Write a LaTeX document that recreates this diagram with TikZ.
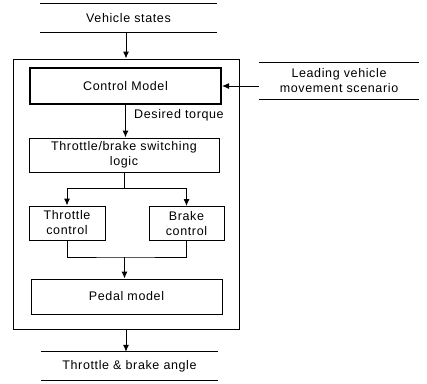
\documentclass[tikz,border=0pt]{standalone}
\usepackage{fontspec}
\setmainfont[LetterSpace=5]{Liberation Sans}
\usetikzlibrary{arrows.meta,calc}
\begin{document}
\begin{tikzpicture}[x=1pt,y=-1pt,
  every node/.style={font=\fontsize{12.5}{15}\selectfont, inner sep=0pt},
  blk/.style={draw, line width=1pt, align=center},
  lbl/.style={align=center},
  arr/.style={-{Latex[length=7pt,width=6pt]}, line width=1pt},
  ln/.style={line width=1pt}]
\useasboundingbox (0,0) rectangle (427,383);
% outer frame
\node[blk, minimum width=226pt, minimum height=270pt] (outer) at (126,194) {};
% blocks
\node[blk, line width=2pt, minimum width=191pt, minimum height=36pt] (cm) at (125.5,86) {Control Model};
\node[blk, minimum width=190pt, minimum height=34pt] (sw) at (124,155) {Throttle/brake switching\\logic};
\node[blk, minimum width=76pt, minimum height=34pt] (thr) at (67,223) {Throttle\\control};
\node[blk, minimum width=75pt, minimum height=34pt] (brk) at (186.5,223.5) {Brake\\control};
\node[blk, minimum width=191pt, minimum height=35pt] (pd) at (126.5,296.5) {Pedal model};
% io labels
\node[lbl, minimum width=177pt, minimum height=28pt] (vs) at (128.5,18) {Vehicle states};
\draw[ln] (vs.north west) -- (vs.north east);
\draw[ln] (vs.south west) -- (vs.south east);
\node[lbl, minimum width=160pt, minimum height=36pt] (lv) at (339,81) {Leading vehicle\\movement scenario};
\draw[ln] (lv.north west) -- (lv.north east);
\draw[ln] (lv.south west) -- (lv.south east);
\node[lbl, minimum width=177pt, minimum height=28pt] (tb) at (129.5,366) {Throttle \& brake angle};
\draw[ln] (tb.north west) -- (tb.north east);
\draw[ln] (tb.south west) -- (tb.south east);
% connectors
\draw[arr] (vs.south -| outer.north) -- (outer.north);
\draw[arr] (lv.west |- cm.east) -- (cm.east);
\draw[arr] (cm.south) -- (cm.south |- sw.north);
\node[anchor=west] (dt) at (134,115) {Desired torque};
\coordinate (j1) at ($(sw.south)+(0,16)$);
\draw[ln] (sw.south) -- (j1);
\draw[arr] (j1) -| (thr.north);
\draw[arr] (j1) -| (brk.north);
\coordinate (j2) at (124.5,257);
\draw[ln] (thr.south) |- (j2) -| (brk.south);
\draw[arr] (j2) -- (j2 |- pd.north);
\draw[arr] (outer.south) -- (outer.south |- tb.north);
\end{tikzpicture}
\end{document}
